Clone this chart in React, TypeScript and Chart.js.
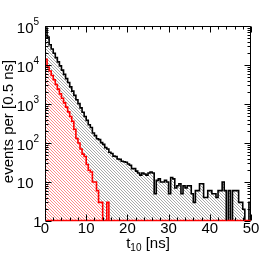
import { useEffect, useRef } from 'react';
import { Chart, registerables } from 'chart.js';

Chart.register(...registerables);

// ---- data (events per 0.5 ns bin, 100 bins from 0 to 50 ns) ----
const binWidth = 0.5;
const xMin = 0;
const xMax = 50;
const xMajorTicks = [0, 10, 20, 30, 40, 50];
const yDecades = [0, 1, 2, 3, 4, 5];

const allEvents = [
  89000, 52000, 33000, 25700, 20000, 15500, 12000, 9500, 7400, 5750,
  4470, 3550, 2750, 2140, 1660, 1290, 1020, 794, 617, 479,
  380, 295, 250, 180, 155, 128, 122, 102, 92, 76,
  70, 58, 54, 46, 45, 39, 38, 34, 33, 32,
  29, 27, 22, 22, 19, 17, 15, 17, 16, 15,
  17, 18, 17, 5, 11, 12, 10, 10, 11, 10,
  5, 13, 12, 7, 8, 9, 5, 8, 7, 8,
  8, 5, 3, 6, 6, 9, 9, 4, 4, 6,
  6, 5, 5, 4, 6, 6, 10, 6, 1, 6,
  1, 6, 6, 6, 3, 3, 2, 1, 1, 3,
];

const selectedEvents = [
  14000, 8900, 7000, 5400, 4200, 3150, 2400, 1820, 1400, 1070,
  830, 630, 480, 360, 225, 130, 100, 70, 52, 45,
  28, 20, 18, 10, 10, 6, 3, 3, 0, 1,
  3, 0, 0, 0, 0, 0, 0, 0, 0, 0,
  0, 0, 0, 0, 0, 0, 0, 0, 0, 0,
  0, 0, 0, 0, 0, 0, 0, 0, 0, 0,
  0, 0, 0, 0, 0, 0, 0, 0, 0, 0,
  0, 0, 0, 0, 0, 0, 0, 0, 0, 0,
  0, 0, 0, 0, 0, 0, 0, 0, 0, 0,
  0, 0, 0, 0, 0, 0, 0, 0, 0, 0,
];

const FONT = '"Liberation Sans", Arial, Helvetica, sans-serif';

function toSteps(values: number[]) {
  const pts = values.map((v, i) => ({ x: xMin + i * binWidth, y: Math.max(v, 1) }));
  pts.push({ x: xMax, y: Math.max(values[values.length - 1], 1) });
  return pts;
}

function makeHatch(color: string, bg: string | null, lw: number) {
  const size = 3;
  const c = document.createElement('canvas');
  c.width = size;
  c.height = size;
  const g = c.getContext('2d')!;
  if (bg) {
    g.fillStyle = bg;
    g.fillRect(0, 0, size, size);
  }
  g.strokeStyle = color;
  g.lineWidth = lw;
  g.beginPath();
  g.moveTo(-1, -1);
  g.lineTo(size + 1, size + 1);
  g.moveTo(-1, size - 1);
  g.lineTo(1, size + 1);
  g.moveTo(size - 1, -1);
  g.lineTo(size + 1, 1);
  g.stroke();
  return g.createPattern(c, 'repeat')!;
}

const rootFrame = {
  id: 'rootFrame',
  afterDatasetsDraw(chart: any) {
    const { ctx, chartArea: a, scales } = chart;
    const xs = scales.x;
    const ys = scales.y;
    const L = Math.round(a.left) + 0.5;
    const R = Math.round(a.right) - 0.5;
    const T = Math.round(a.top) + 0.5;
    const B = Math.round(a.bottom) - 0.5;
    ctx.save();
    ctx.lineWidth = 1;
    ctx.strokeStyle = '#000';
    ctx.beginPath();
    ctx.moveTo(L, B);
    ctx.lineTo(L, T);
    ctx.lineTo(R, T);
    ctx.lineTo(R, B);
    ctx.stroke();
    ctx.strokeStyle = '#ff0000';
    ctx.lineWidth = 1.5;
    ctx.beginPath();
    ctx.moveTo(L, B);
    ctx.lineTo(R, B);
    ctx.stroke();
    ctx.strokeStyle = '#000';
    ctx.lineWidth = 1;
    ctx.beginPath();
    // x ticks (inside, bottom and top)
    for (let v = xMin; v <= xMax + 1e-9; v += 2) {
      const major = Math.abs(v % 10) < 1e-9;
      const len = major ? 6 : 3;
      const px = Math.round(xs.getPixelForValue(v)) + 0.5;
      ctx.moveTo(px, B);
      ctx.lineTo(px, B - len);
      ctx.moveTo(px, T);
      ctx.lineTo(px, T + len);
    }
    // y ticks (inside, left and right)
    for (let d = 0; d < 5; d++) {
      for (let m = 1; m <= 9; m++) {
        const v = m * Math.pow(10, d);
        const len = m === 1 ? 6 : 3;
        const py = Math.round(ys.getPixelForValue(v)) + 0.5;
        ctx.moveTo(L, py);
        ctx.lineTo(L + len, py);
        ctx.moveTo(R, py);
        ctx.lineTo(R - len, py);
      }
    }
    const pyTop = Math.round(ys.getPixelForValue(1e5)) + 0.5;
    ctx.moveTo(L, pyTop);
    ctx.lineTo(L + 6, pyTop);
    ctx.moveTo(R, pyTop);
    ctx.lineTo(R - 6, pyTop);
    ctx.stroke();

    // x tick labels
    ctx.fillStyle = '#000';
    ctx.font = `15px ${FONT}`;
    ctx.textAlign = 'center';
    ctx.textBaseline = 'alphabetic';
    for (const v of xMajorTicks) {
      ctx.fillText(String(v), xs.getPixelForValue(v), 233);
    }
    // y tick labels
    for (const d of yDecades) {
      const py = ys.getPixelForValue(Math.pow(10, d));
      ctx.textAlign = 'right';
      ctx.font = `15px ${FONT}`;
      if (d === 0) {
        ctx.fillText('1', 41.5, py + 6);
      } else if (d === 1) {
        ctx.fillText('10', 33.5, py + 5.5);
      } else {
        ctx.fillText('10', 33.5, py + 6.5);
        ctx.textAlign = 'left';
        ctx.font = `10px ${FONT}`;
        ctx.fillText(String(d), 33.5, py - 1);
      }
    }
    // x title: t_10 [ns]
    const cx = (a.left + a.right) / 2;
    ctx.font = `15px ${FONT}`;
    const wT = ctx.measureText('t').width;
    const wN = ctx.measureText(' [ns]').width;
    ctx.font = `10px ${FONT}`;
    const wS = ctx.measureText('10').width;
    const start = cx - (wT + wS + wN) / 2;
    ctx.textAlign = 'left';
    ctx.font = `15px ${FONT}`;
    ctx.fillText('t', start, 248);
    ctx.font = `10px ${FONT}`;
    ctx.fillText('10', start + wT, 251);
    ctx.font = `15px ${FONT}`;
    ctx.fillText(' [ns]', start + wT + wS, 248);
    // y title
    ctx.save();
    ctx.translate(9, 121.5);
    ctx.rotate(-Math.PI / 2);
    ctx.textAlign = 'center';
    ctx.textBaseline = 'middle';
    ctx.font = `15px ${FONT}`;
    ctx.fillText('events per [0.5 ns]', 0, 0);
    ctx.restore();
    ctx.restore();
  },
};

export default function App() {
  const ref = useRef<HTMLCanvasElement>(null);
  useEffect(() => {
    const canvas = ref.current!;
    const blackHatch = makeHatch('#707070', '#ffffff', 0.6);
    const redHatch = makeHatch('#ff3a3a', '#ffffff', 0.6);
    const chart = new Chart(canvas, {
      type: 'line',
      data: {
        datasets: [
          {
            label: 'selected',
            data: toSteps(selectedEvents),
            stepped: 'before',
            borderColor: '#ff0000',
            borderWidth: 1.6,
            backgroundColor: redHatch,
            fill: 'start',
            pointRadius: 0,
            order: 0,
          },
          {
            label: 'all',
            data: toSteps(allEvents),
            stepped: 'before',
            borderColor: '#000000',
            borderWidth: 1.6,
            backgroundColor: blackHatch,
            fill: 'start',
            pointRadius: 0,
            order: 1,
          },
        ],
      },
      options: {
        animation: false,
        responsive: false,
        devicePixelRatio: 1,
        events: [],
        layout: { padding: { left: 45, right: 15, top: 26, bottom: 33 } },
        plugins: { legend: { display: false }, tooltip: { enabled: false } },
        scales: {
          x: { type: 'linear', min: xMin, max: xMax, display: false },
          y: { type: 'logarithmic', min: 1, max: 1e5, display: false },
        },
      },
      plugins: [rootFrame],
    });
    return () => chart.destroy();
  }, []);
  return (
    <div style={{ position: 'absolute', left: 0, top: 0, width: 266, height: 254, background: '#fff' }}>
      <canvas ref={ref} width={266} height={254} style={{ display: 'block' }} />
    </div>
  );
}
